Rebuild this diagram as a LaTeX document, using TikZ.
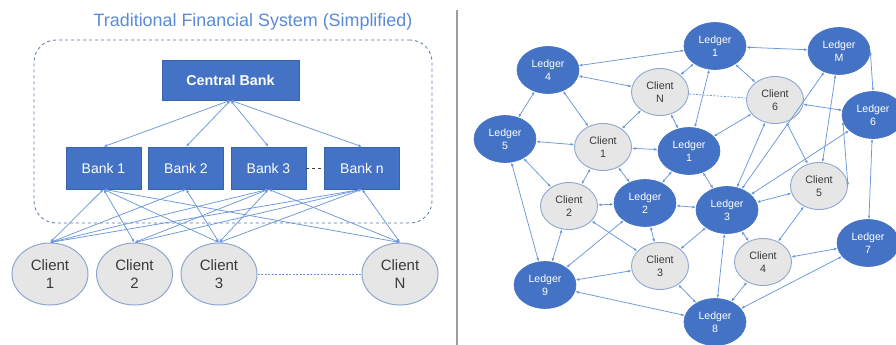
\documentclass[tikz,border=0pt]{standalone}
\usepackage{fontspec}
\setmainfont{Liberation Sans}
\usetikzlibrary{shapes.geometric,arrows.meta}
\definecolor{nodeblue}{HTML}{4472C4}
\definecolor{nodeedge}{HTML}{3A63AD}
\definecolor{linkblue}{HTML}{6B98DC}
\definecolor{clientfill}{HTML}{E7E6E6}
\definecolor{clientedge}{HTML}{8FA6CF}
\definecolor{frameblue}{HTML}{5577A8}
\definecolor{titleblue}{HTML}{5A8AD8}
\definecolor{txtgray}{HTML}{3A3A3A}
\tikzset{
  bankbox/.style={rectangle,fill=nodeblue,draw=nodeedge,line width=0.6pt,text=white,inner sep=0pt},
  bigclient/.style={ellipse,fill=clientfill,draw=clientedge,line width=1pt,minimum width=76pt,minimum height=62pt,inner sep=0pt,align=center,text=txtgray,font=\fontsize{15}{18}\selectfont},
  ledger/.style={ellipse,fill=nodeblue,draw=nodeblue,line width=0.6pt,minimum width=62pt,minimum height=47pt,inner sep=0pt,align=center,text=white,font=\fontsize{10.6}{13}\selectfont},
  smallclient/.style={ellipse,fill=clientfill,draw=clientedge,line width=0.9pt,minimum width=57pt,minimum height=47pt,inner sep=0pt,align=center,text=txtgray,font=\fontsize{10.7}{13}\selectfont},
  link/.style={draw=linkblue,line width=0.75pt,{Latex[length=3.6pt,width=2.8pt]}-{Latex[length=3.6pt,width=2.8pt]}},
  dotlink/.style={draw=linkblue,line width=0.8pt,dash pattern=on 2pt off 1.5pt}
}
\begin{document}
\begin{tikzpicture}[x=1pt,y=-1pt]
\useasboundingbox (0,0) rectangle (896,345);
\clip (0,0) rectangle (896,345);
\fill[white] (0,0) rectangle (896,345);
% ---------------- left panel ----------------
\node[text=titleblue,font=\fontsize{17.9}{20}\selectfont] (title) at (253,22) {Traditional Financial System (Simplified)};
\node[draw=frameblue,dashed,line width=0.8pt,rounded corners=22pt,minimum width=398pt,minimum height=183pt,inner sep=0pt] (frame) at (233,131.5) {};
\node[bankbox,minimum width=137pt,minimum height=40pt,font=\bfseries\fontsize{14.3}{16}\selectfont] (cb) at (230.5,80) {Central Bank};
\node[bankbox,minimum width=75pt,minimum height=42pt,font=\fontsize{14}{16}\selectfont] (b1) at (103.5,168) {Bank 1};
\node[bankbox,minimum width=75pt,minimum height=42pt,font=\fontsize{14}{16}\selectfont] (b2) at (186,168) {Bank 2};
\node[bankbox,minimum width=75pt,minimum height=42pt,font=\fontsize{14}{16}\selectfont] (b3) at (268.5,168) {Bank 3};
\node[bankbox,minimum width=75pt,minimum height=42pt,font=\fontsize{14}{16}\selectfont] (bn) at (362,168) {Bank n};
\node[bigclient] (lc1) at (50,274) {Client\\1};
\node[bigclient] (lc2) at (134.5,274) {Client\\2};
\node[bigclient] (lc3) at (219,274) {Client\\3};
\node[bigclient] (lcn) at (400,274) {Client\\N};
\draw[draw=black!75,dashed,line width=0.8pt] (b3) -- (bn);
\draw[dotlink] (lc3) -- (lcn);
\foreach \b in {b1,b2,b3,bn} \draw[link] (cb.south) -- (\b.north);
\foreach \c in {lc1,lc2,lc3,lcn} {
  \draw[link] (b1.south) -- (\c.north);
  \draw[link] (b3.south) -- (\c.north);
  \draw[link] (bn.south) -- (\c.north);
}
\draw[link] (b2.south) -- (lc1.north);
\draw[link] (b2.south) -- (lc3.north);
% divider
\draw[draw=black!38,line width=1.4pt] (457,10) -- (457,345);
% ---------------- right panel ----------------
\node[ledger] (L4) at (548,70) {Ledger\\4};
\node[ledger] (L1t) at (715,46) {Ledger\\1};
\node[ledger] (LM) at (839,51) {Ledger\\M};
\node[smallclient] (CN) at (660,92) {Client\\N};
\node[smallclient] (C6) at (775,100) {Client\\6};
\node[ledger] (L6) at (873,115) {Ledger\\6};
\node[ledger] (L5) at (505,139) {Ledger\\5};
\node[smallclient] (C1) at (603,147) {Client\\1};
\node[ledger] (L1m) at (689,151) {Ledger\\1};
\node[smallclient] (C2) at (569,206) {Client\\2};
\node[ledger] (L2) at (645,203) {Ledger\\2};
\node[ledger] (L3) at (727,210) {Ledger\\3};
\node[smallclient] (C5) at (819,186) {Client\\5};
\node[ledger] (L7) at (868,243) {Ledger\\7};
\node[smallclient] (C3) at (660,266) {Client\\3};
\node[smallclient] (C4) at (763,262) {Client\\4};
\node[ledger] (L9) at (545,285) {Ledger\\9};
\node[ledger] (L8) at (715,322) {Ledger\\8};
\draw[dotlink] (CN) -- (C6);
\foreach \a/\b in {L4/L1t,L1t/LM,L4/CN,L4/L5,L4/C1,L5/C1,C1/CN,C1/L1m,L1t/CN,L1t/L1m,L1t/C6,CN/L1m,C6/L6,L1m/C6,L1m/L3,L3/C6,L3/L6,LM/L3,LM/C5,C6/C5,L6/L7,L3/C5,L5/C2,L5/L9,C1/C2,C1/L2,C2/L2,C2/L9,C2/C3,L2/L9,L2/C3,L9/C3,L9/L8,L2/L1m,L2/L3,L3/C3,L3/L8,L3/C4,C3/L8,C4/L8,L8/L7,C4/C5,C4/L7}
  \draw[link] (\a) -- (\b);
\draw[link] (L6.192) -- (C5.east);
\draw[link] (LM.east) -- (L6.north);
\end{tikzpicture}
\end{document}
